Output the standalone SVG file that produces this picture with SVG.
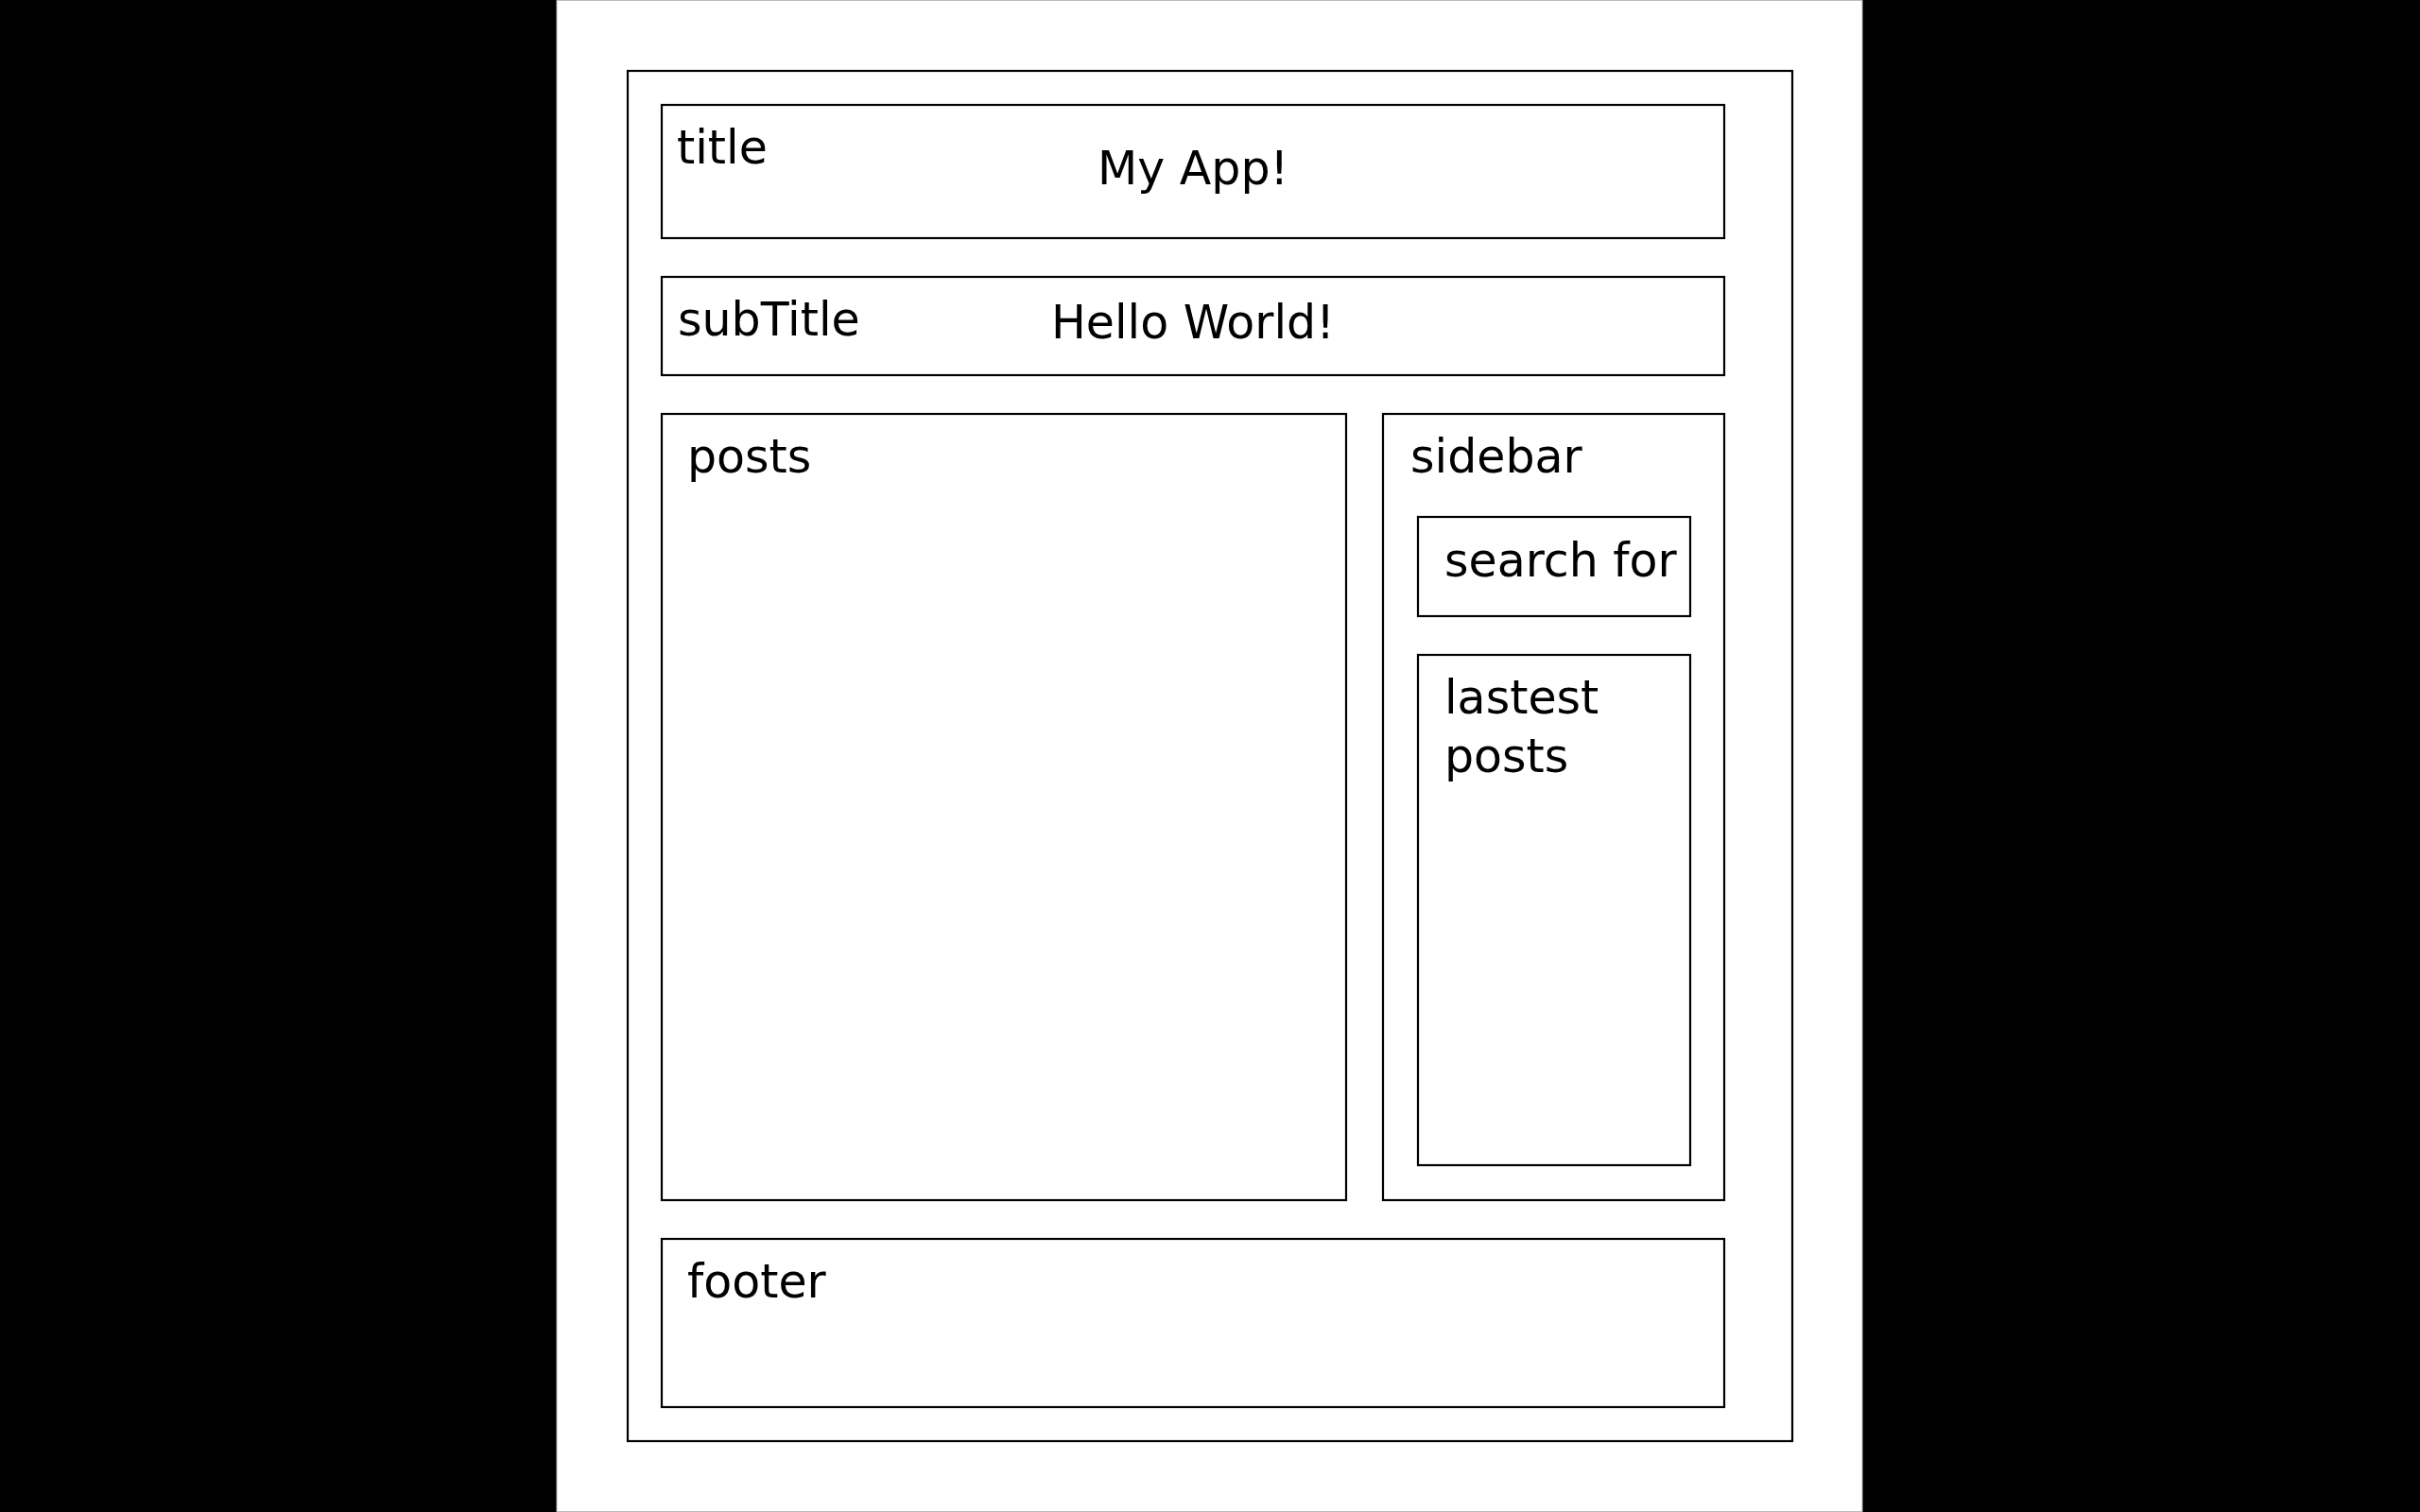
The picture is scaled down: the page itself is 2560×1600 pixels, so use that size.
<svg xmlns="http://www.w3.org/2000/svg" width="2560" height="1600" viewBox="0 0 2560 1600">
<style>
.box{fill:none;stroke:#000;stroke-width:2.2}
.lbl{font-family:"DejaVu Sans","Liberation Sans",sans-serif;font-size:49px;fill:#000}
</style>
<rect x="0" y="0" width="2560" height="1600" fill="#000"/>
<rect x="589" y="0.5" width="1381" height="1599" fill="#fff" stroke="#bbb" stroke-width="1"/>
<g id="page">
<rect class="box" x="664" y="75" width="1232" height="1450"/>
</g>
<g id="title">
<rect class="box" x="700" y="111" width="1124" height="141"/>
<text class="lbl" x="716" y="173">title</text>
<text class="lbl" x="1161" y="195">My App!</text>
</g>
<g id="subTitle">
<rect class="box" x="700" y="293" width="1124" height="104"/>
<text class="lbl" x="717" y="355">subTitle</text>
<text class="lbl" x="1112" y="358">Hello World!</text>
</g>
<g id="posts">
<rect class="box" x="700" y="438" width="724" height="832"/>
<text class="lbl" x="727" y="500">posts</text>
</g>
<g id="sidebar">
<rect class="box" x="1463" y="438" width="361" height="832"/>
<text class="lbl" x="1492" y="500">sidebar</text>
</g>
<g id="search">
<rect class="box" x="1500" y="547" width="288" height="105"/>
<text class="lbl" x="1528" y="610">search for</text>
</g>
<g id="latest">
<rect class="box" x="1500" y="693" width="288" height="540"/>
<text class="lbl" x="1528" y="755">lastest</text>
<text class="lbl" x="1528" y="817">posts</text>
</g>
<g id="footer">
<rect class="box" x="700" y="1311" width="1124" height="178"/>
<text class="lbl" x="727" y="1373">footer</text>
</g>
<g id="connectors"></g>
</svg>
